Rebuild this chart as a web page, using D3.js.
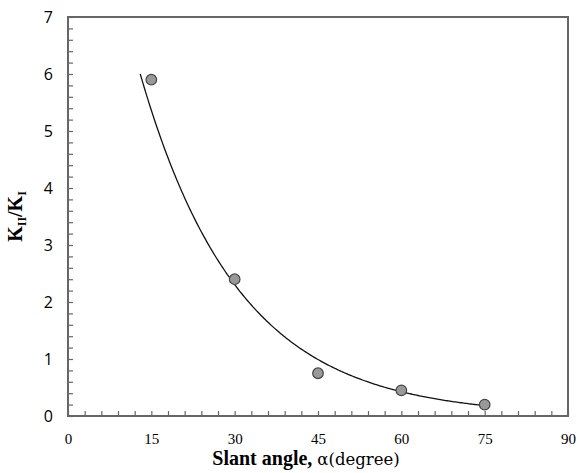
<!DOCTYPE html>
<html>
<head>
<meta charset="utf-8">
<script src="https://cdn.jsdelivr.net/npm/d3@7"></script>
<style>
  html, body { margin: 0; padding: 0; background: #fff; }
  svg { display: block; }
</style>
</head>
<body>
<svg id="chart" width="578" height="473"></svg>
<script>
// ---- data ----
const angles = [15, 30, 45, 60, 75];          // slant angle, degrees
const ratios = [5.9, 2.4, 0.75, 0.45, 0.2];   // KII / KI
const xTickValues = [0, 15, 30, 45, 60, 75, 90];
const yTickValues = [0, 1, 2, 3, 4, 5, 6, 7];
const trendRange = [13, 75];                  // extent of the exponential trendline

// ---- layout ----
const W = 578, H = 473;
const margin = { left: 68, right: 10, top: 17, bottom: 57 };
const svg = d3.select("#chart");

const x = d3.scaleLinear().domain([0, 90]).range([margin.left, W - margin.right]);
const y = d3.scaleLinear().domain([0, 7]).range([H - margin.bottom, margin.top]);

const axisColor = "#666";

// minor + major ticks, left axis (ticks point inward)
const yMinor = d3.range(0, 7.001, 0.2).map(v => +v.toFixed(1));
const yAxis = d3.axisLeft(y)
  .tickValues(yMinor)
  .tickSize(-5)
  .tickPadding(15)
  .tickFormat(v => yTickValues.includes(v) ? d3.format("d")(v) : "");
const gy = svg.append("g").attr("transform", `translate(${margin.left},0)`).call(yAxis);
gy.select(".domain").remove();
gy.selectAll(".tick line").attr("stroke", axisColor).attr("stroke-width", 1.2);
gy.selectAll(".tick text")
  .attr("fill", "#000")
  .style("font-family", "'Open Sans', 'Liberation Sans', sans-serif")
  .style("font-size", "16px");

// bottom axis
const xMinor = d3.range(0, 91, 3);
const xAxis = d3.axisBottom(x)
  .tickValues(xMinor)
  .tickSize(-5)
  .tickPadding(17)
  .tickFormat(v => xTickValues.includes(v) ? d3.format("d")(v) : "");
const gx = svg.append("g").attr("transform", `translate(0,${y(0)})`).call(xAxis);
gx.select(".domain").remove();
gx.selectAll(".tick line").attr("stroke", axisColor).attr("stroke-width", 1.2);
gx.selectAll(".tick text")
  .attr("fill", "#000")
  .style("font-family", "'Liberation Serif', 'Times New Roman', serif")
  .style("font-size", "15px");

// frame
svg.append("rect")
  .attr("x", x(0)).attr("y", y(7))
  .attr("width", x(90) - x(0)).attr("height", y(0) - y(7))
  .attr("fill", "none").attr("stroke", axisColor).attr("stroke-width", 2);

// exponential trendline fitted to the data (least squares on ln y)
const lnY = ratios.map(Math.log);
const mx = d3.mean(angles), my = d3.mean(lnY);
const b = d3.sum(angles.map((a, i) => (a - mx) * (lnY[i] - my))) / d3.sum(angles.map(a => (a - mx) ** 2));
const a0 = Math.exp(my - b * mx);
const trend = d3.range(trendRange[0], trendRange[1] + 0.001, 0.25).map(t => [t, a0 * Math.exp(b * t)]);

svg.append("path")
  .datum(trend)
  .attr("fill", "none")
  .attr("stroke", "#111")
  .attr("stroke-width", 1.3)
  .attr("d", d3.line().x(d => x(d[0])).y(d => y(d[1])));

// data markers
svg.selectAll("circle.pt")
  .data(angles.map((a, i) => ({ a, r: ratios[i] })))
  .join("circle")
  .attr("class", "pt")
  .attr("cx", d => x(d.a))
  .attr("cy", d => y(d.r))
  .attr("r", 5.3)
  .attr("fill", "#999")
  .attr("stroke", "#444")
  .attr("stroke-width", 1.2);

// x-axis title
const xt = svg.append("text")
  .attr("x", 306)
  .attr("y", 465)
  .attr("text-anchor", "middle")
  .attr("fill", "#000");
xt.append("tspan")
  .style("font-family", "'Liberation Serif', 'Times New Roman', serif")
  .style("font-size", "20px")
  .attr("font-weight", "bold")
  .text("Slant angle, ");
xt.append("tspan")
  .style("font-family", "'DejaVu Serif', serif")
  .style("font-size", "16.5px")
  .text("α(degree)");

// y-axis title  K_II / K_I
const yt = svg.append("text")
  .attr("transform", `translate(22,${(y(0) + y(7)) / 2}) rotate(-90)`)
  .attr("text-anchor", "middle")
  .style("font-family", "'Liberation Serif', 'Times New Roman', serif")
  .style("font-size", "20px")
  .attr("font-weight", "bold")
  .attr("fill", "#000");
yt.append("tspan").text("K");
yt.append("tspan").attr("dy", 4).style("font-size", "12px").text("II");
yt.append("tspan").attr("dy", -4).text("/K");
yt.append("tspan").attr("dy", 4).style("font-size", "12px").text("I");
</script>
</body>
</html>
